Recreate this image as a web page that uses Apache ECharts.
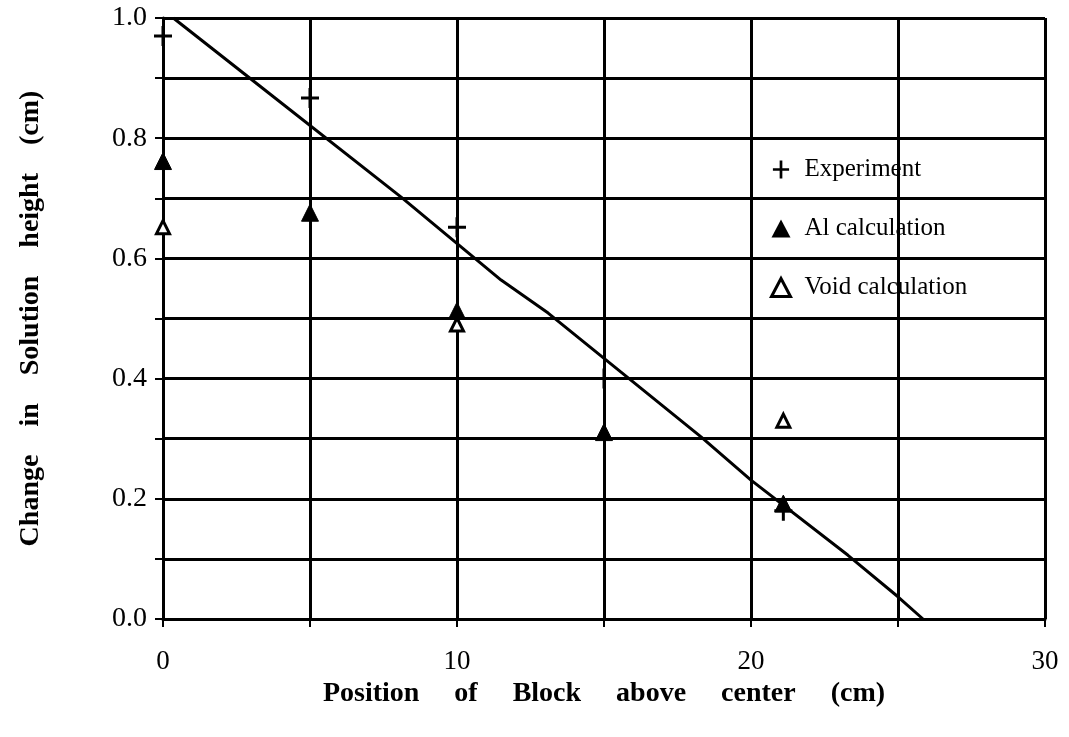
<!DOCTYPE html>
<html>
<head>
<meta charset="utf-8">
<script src="https://cdn.jsdelivr.net/npm/echarts@6/dist/echarts.min.js"></script>
<style>html,body{margin:0;padding:0;background:#fff;}#c{width:1069px;height:737px;}</style>
</head>
<body>
<div id="c"></div>
<script>
// Data
const expX = [0, 5, 10, 15, 21.1];
const expY = [0.97, 0.867, 0.652, 0.40, 0.18];
const alX = [0, 5, 10, 15, 21.1];
const alY = [0.762, 0.676, 0.513, 0.311, 0.192];
const voidX = [0, 10, 21.1];
const voidY = [0.652, 0.49, 0.33];
const lineX = [0.35, 3.0, 8.1, 11.5, 13.1, 18.3, 20.0, 23.3, 25.0, 25.85];
const lineY = [1.0, 0.898, 0.702, 0.564, 0.509, 0.303, 0.231, 0.106, 0.037, 0.0];
const xTickLabels = ['0', '10', '20', '30'];
const yTickLabels = ['0.0', '0.2', '0.4', '0.6', '0.8', '1.0'];
const xTitle = 'Position     of     Block     above     center     (cm)';
const yTitle = 'Change    in    Solution    height    (cm)';
const seriesNames = ['Experiment', 'Al calculation', 'Void calculation'];

const pair = (xs, ys) => xs.map((x, i) => [x, ys[i]]);
const FONT = 'Liberation Serif';
const plusPath = 'path://M0,8.5 L18,8.5 L18,11.5 L0,11.5 Z M7.5,0 L10.5,0 L10.5,20 L7.5,20 Z';

const chart = echarts.init(document.getElementById('c'), null, {renderer: 'canvas'});
chart.setOption({
  backgroundColor: '#fff',
  animation: false,
  grid: {left: 163, right: 24, top: 18, bottom: 118, containLabel: false},
  legend: {
    data: [
      {name: seriesNames[0], itemStyle: {color: '#000', opacity: 1}},
      {name: seriesNames[1], itemStyle: {color: '#000', borderWidth: 0, opacity: 1}},
      {name: seriesNames[2], itemStyle: {color: '#fff', borderColor: '#000', borderWidth: 3, opacity: 1}}
    ],
    orient: 'vertical',
    left: 765,
    top: 152,
    itemGap: 34,
    itemWidth: 19,
    itemHeight: 18,
    textStyle: {fontFamily: FONT, fontSize: 25, color: '#000', padding: [0, 0, 0, 9]},
    selectedMode: false
  },
  xAxis: {
    type: 'value', min: 0, max: 30, interval: 5,
    name: xTitle, nameLocation: 'middle', nameGap: 57,
    nameTextStyle: {fontFamily: FONT, fontWeight: 'bold', fontSize: 28, color: '#000'},
    axisLine: {show: true, lineStyle: {color: '#000', width: 3}},
    axisTick: {show: true, inside: false, length: 8, lineStyle: {color: '#000', width: 2}},
    axisLabel: {
      fontFamily: FONT, fontSize: 27, color: '#000', margin: 29,
      formatter: v => (Math.round(v) % 10 === 0 ? xTickLabels[Math.round(v) / 10] : '')
    },
    splitLine: {show: true, lineStyle: {color: '#000', width: 3}}
  },
  yAxis: {
    type: 'value', min: 0, max: 1, interval: 0.1,
    name: yTitle, nameLocation: 'middle', nameGap: 118,
    nameTextStyle: {fontFamily: FONT, fontWeight: 'bold', fontSize: 28, color: '#000'},
    axisLine: {show: true, lineStyle: {color: '#000', width: 3}},
    axisTick: {show: true, inside: false, length: 8, lineStyle: {color: '#000', width: 2}},
    axisLabel: {
      fontFamily: FONT, fontSize: 28, color: '#000', margin: 16,
      formatter: v => {
        const k = Math.round(v * 10);
        return k % 2 === 0 ? yTickLabels[k / 2] : '';
      }
    },
    splitLine: {show: true, lineStyle: {color: '#000', width: 3}}
  },
  series: [
    {
      name: 'fit', type: 'line', data: pair(lineX, lineY),
      symbol: 'none', lineStyle: {color: '#000', width: 3}, z: 3, silent: true
    },
    {
      name: seriesNames[0], type: 'scatter', data: pair(expX, expY),
      symbol: plusPath, symbolSize: [18, 20],
      itemStyle: {color: '#000', borderWidth: 0, opacity: 1}, z: 4
    },
    {
      name: seriesNames[1], type: 'scatter', data: pair(alX, alY),
      symbol: 'triangle', symbolSize: [17, 17],
      itemStyle: {color: '#000', borderColor: '#000', borderWidth: 1, opacity: 1}, z: 5
    },
    {
      name: seriesNames[2], type: 'scatter', data: pair(voidX, voidY),
      symbol: 'triangle', symbolSize: [13, 13],
      itemStyle: {color: '#fff', borderColor: '#000', borderWidth: 3, opacity: 1}, z: 6
    }
  ]
});
</script>
</body>
</html>
